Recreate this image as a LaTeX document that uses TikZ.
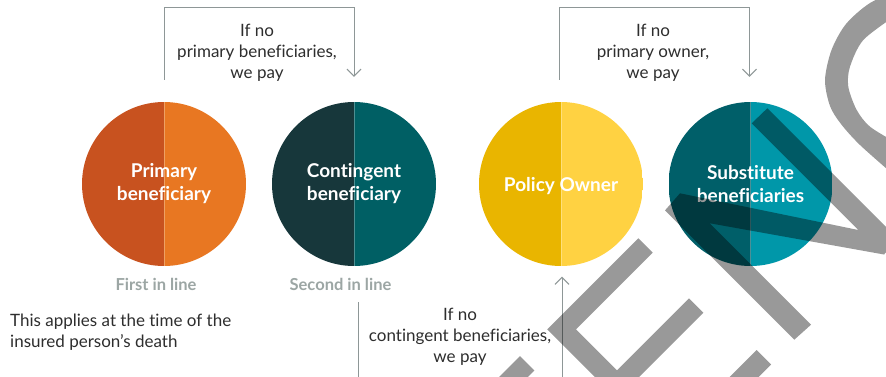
\documentclass[tikz,border=0pt]{standalone}
\usepackage{fontspec}
\setmainfont{Lato}[Ligatures=NoCommon]
\usetikzlibrary{arrows.meta}
\definecolor{pbL}{HTML}{C8521F}
\definecolor{pbR}{HTML}{E87722}
\definecolor{cbL}{HTML}{17373B}
\definecolor{cbR}{HTML}{005F64}
\definecolor{poL}{HTML}{E9B500}
\definecolor{poR}{HTML}{FFD242}
\definecolor{sbL}{HTML}{005F69}
\definecolor{sbR}{HTML}{0097A9}
\definecolor{conn}{HTML}{8E9797}
\definecolor{rankgray}{HTML}{9CA6A4}
\definecolor{ink}{HTML}{2E2E2E}
\tikzset{
  bubble/.style 2 args={circle, minimum size=164pt, inner sep=0pt, text=white,
    font=\fontsize{19}{23}\selectfont\bfseries, align=center,
    execute at begin node={\rule{0pt}{18pt}},
    path picture={
      \fill[#1] (path picture bounding box.south west) rectangle (path picture bounding box.north);
      \fill[#2] (path picture bounding box.south) rectangle (path picture bounding box.north east);
      \draw[white, opacity=0.3, line width=0.8pt] (path picture bounding box.north) -- (path picture bounding box.south);
    }},
  note/.style={text=ink, font=\fontsize{17}{21}\selectfont, align=center, inner sep=0pt},
  rank/.style={text=rankgray, font=\fontsize{16.5}{20}\selectfont\bfseries, inner sep=0pt, anchor=base},
  link/.style={draw=conn, line width=1pt},
  tip/.style={-{Straight Barb[length=7pt,width=14pt]}},
  wm/.style={fill=black, fill opacity=0.4}
}
\begin{document}
\begin{tikzpicture}[x=1pt,y=-1pt]
\useasboundingbox (0,0) rectangle (886,376);
\clip (0,0) rectangle (886,376);
\fill[white] (0,0) rectangle (886,376);

% circles
\node[bubble={pbL}{pbR}] (pb) at (164,184) {Primary\\beneficiary};
\node[bubble={cbL}{cbR}] (cb) at (354,184) {Contingent\\beneficiary};
\node[bubble={poL}{poR}] (po) at (561,184) {Policy Owner};
\node[bubble={sbL}{sbR}] (sb) at (750.5,184) {Substitute\\beneficiaries};

% rank labels
\node[rank] (first) at (156,290.5) {First in line};
\node[rank] (second) at (340.5,290.5) {Second in line};

% notes
\node[note] (n1) at (257,52.7) {If no\\primary beneficiaries,\\we pay};
\node[note] (n2) at (653,52.7) {If no\\primary owner,\\we pay};
\node[note] (n3) at (460,337.2) {If no\\contingent beneficiaries,\\we pay};
\node[note, align=left, anchor=west] (n4) at (10,332) {This applies at the time of the\\insured person’s death};

% connectors
\coordinate (l1) at ([yshift=22pt]pb.north);
\coordinate (l2) at ([yshift=25pt]cb.north);
\coordinate (r1) at ([yshift=22pt,xshift=-1.5pt]po.north);
\coordinate (r2) at ([yshift=25pt,xshift=-1pt]sb.north);
\coordinate (b1) at (358,302);
\coordinate (b2) at ([yshift=-10.5pt,xshift=1pt]po.south);
\draw[link,tip] (l1) -- ++(0,-72) -| (l2);
\draw[link,tip] (r1) -- ++(0,-72) -| (r2);
\draw[link,tip] (b1) -- ++(0,100) -| (b2);

% watermark
\fill[wm] (520,356) -- (534.4,370.4) -- (494.4,410.4) -- (480,396) -- cycle;
\fill[wm] (547.2,329.3) -- (638.3,238.3) -- (652.7,252.7) -- (576,329.3) -- (617,370.3)
  -- (689,298.3) -- (703.4,312.7) -- (631.4,384.7) -- (676.7,430) -- (756.7,350)
  -- (771.1,364.4) -- (676.7,458.8) -- cycle;
\fill[wm] (665,210.4) -- (680,193.3) -- (858.3,230) -- (751.7,123.3) -- (767.3,108.3)
  -- (898.5,239.5) -- (884,254.5) -- (709.5,223.2) -- (811,324.7) -- (794.3,339.7) -- cycle;
\fill[wm] plot[smooth] coordinates {(900,-10) (870,3) (846,24) (831.5,50) (825,80) (830,106) (841,124) (860,145) (895,176)}
  -- plot[smooth] coordinates {(895,142) (870,126.7) (856.7,110) (848.3,86.7) (850,66.7) (863.3,40) (895,16)} -- cycle;
\end{tikzpicture}
\end{document}
